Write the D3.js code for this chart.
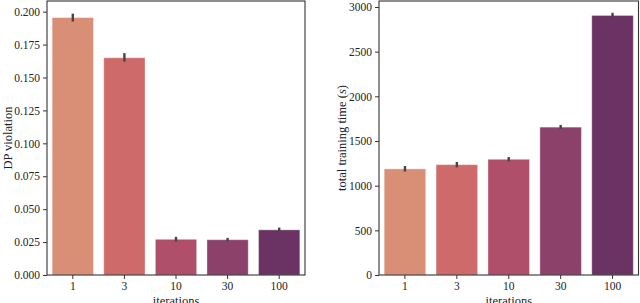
<!DOCTYPE html>
<html><head><meta charset="utf-8">
<script src="https://cdn.jsdelivr.net/npm/d3@7"></script>
<style>body{margin:0;background:#fff}svg{display:block}text{font-family:"Liberation Serif","DejaVu Serif",serif;fill:#222}</style>
</head><body><svg id="c" width="640" height="303"></svg>
<script>
const categories = ["1","3","10","30","100"];
const colors = ["#d98e76","#cf6a6a","#b04f6a","#8c416b","#6a3363"];
const dpValues = [0.1955, 0.165, 0.0271, 0.0268, 0.0343];
const dpLow = [0.1925, 0.162, 0.0255, 0.0255, 0.0330];
const dpHigh = [0.1985, 0.1685, 0.0290, 0.0282, 0.0360];
const dpTicks = [0, 0.025, 0.05, 0.075, 0.1, 0.125, 0.15, 0.175, 0.2];
const timeValues = [1188, 1235, 1295, 1655, 2905];
const timeLow = [1158, 1205, 1272, 1635, 2885];
const timeHigh = [1220, 1265, 1320, 1680, 2935];
const timeTicks = [0, 500, 1000, 1500, 2000, 2500, 3000];

const svg = d3.select("#c");
function panel(cfg){
  const x = d3.scaleBand().domain(categories).range([cfg.x0, cfg.x1]).paddingInner(0.2).paddingOuter(0.1);
  const y = d3.scaleLinear().domain([0, cfg.ymax]).range([275, 1]);
  const g = svg.append("g");
  g.selectAll("rect.bar").data(cfg.vals).join("rect")
    .attr("x",(d,i)=>x(categories[i])).attr("width",x.bandwidth())
    .attr("y",d=>y(d)).attr("height",d=>275-y(d))
    .attr("fill",(d,i)=>colors[i]).attr("stroke","#fff").attr("stroke-opacity",0.35).attr("stroke-width",1);
  g.selectAll("line.err").data(cfg.vals).join("line")
    .attr("x1",(d,i)=>x(categories[i])+x.bandwidth()/2).attr("x2",(d,i)=>x(categories[i])+x.bandwidth()/2)
    .attr("y1",(d,i)=>y(cfg.lo[i])).attr("y2",(d,i)=>y(cfg.hi[i]))
    .attr("stroke","#444").attr("stroke-width",2.4);
  g.append("rect").attr("x",cfg.x0).attr("y",1).attr("width",cfg.x1-cfg.x0).attr("height",274)
    .attr("fill","none").attr("stroke","#333").attr("stroke-width",1.1);
  const ya = g.append("g").attr("transform",`translate(${cfg.x0},0)`)
    .call(d3.axisLeft(y).tickValues(cfg.ticks).tickFormat(cfg.fmt).tickSize(4).tickPadding(3));
  const xa = g.append("g").attr("transform","translate(0,275)")
    .call(d3.axisBottom(x).tickSize(4).tickPadding(3));
  [ya,xa].forEach(a=>{a.select(".domain").remove();a.selectAll("line").attr("stroke","#333");
    a.selectAll("text").attr("font-size","11.5px").attr("fill","#222").style("font-family","'Liberation Serif',serif");});
  g.append("text").attr("x",(cfg.x0+cfg.x1)/2).attr("y",305).attr("text-anchor","middle").attr("font-size","12.5px").text("iterations");
  const yl = g.append("text").attr("transform",`translate(${cfg.lx},138) rotate(-90)`).attr("text-anchor","middle").attr("font-size","12.5px");
  cfg.label(yl);
}
panel({x0:47,x1:305,ymax:0.2081,vals:dpValues,lo:dpLow,hi:dpHigh,ticks:dpTicks,fmt:d3.format(".3f"),lx:12,
  label:t=>t.text("DP violation")});
panel({x0:379,x1:638.5,ymax:3067,vals:timeValues,lo:timeLow,hi:timeHigh,ticks:timeTicks,fmt:d3.format("d"),lx:346,
  label:t=>{t.append("tspan").text("total training time ("); t.append("tspan").attr("font-style","italic").text("s"); t.append("tspan").text(")");}});
</script></body></html>
